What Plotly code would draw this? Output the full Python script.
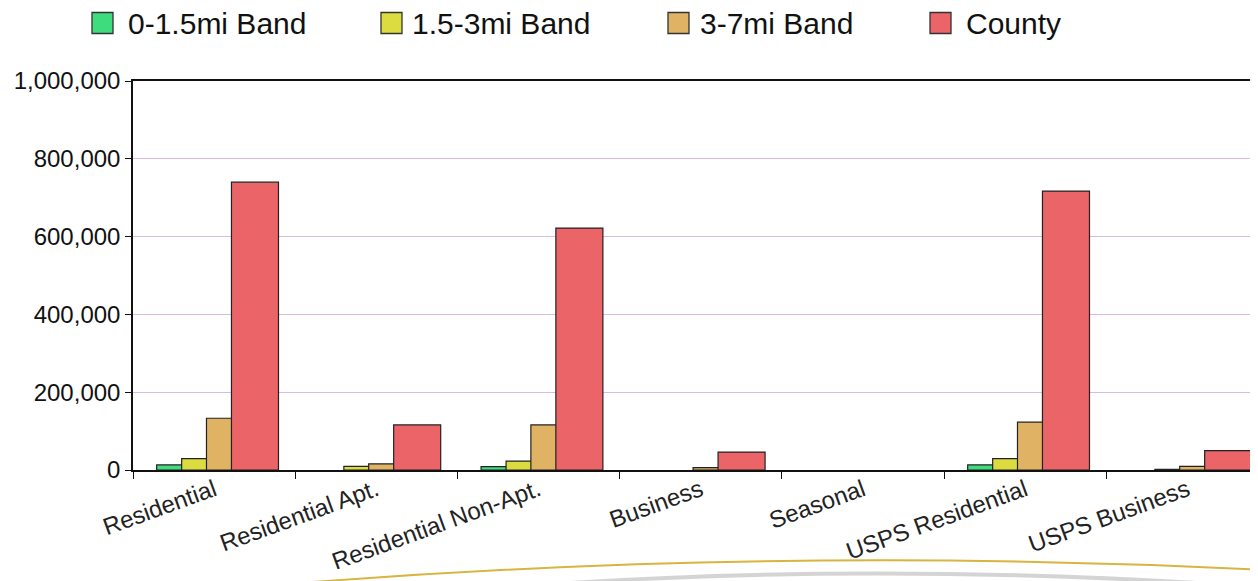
import plotly.graph_objects as go

categories = ["Residential", "Residential Apt.", "Residential Non-Apt.", "Business",
              "Seasonal", "USPS Residential", "USPS Business"]
series_names = ["0-1.5mi Band", "1.5-3mi Band", "3-7mi Band", "County"]
band_0_15 = [13000, 0, 8500, 0, 0, 13000, 0]
band_15_3 = [29000, 9500, 23000, 0, 0, 29000, 1500]
band_3_7 = [133000, 16000, 116000, 6000, 0, 123000, 9500]
county = [740000, 116000, 622000, 46000, 0, 717000, 50000]
y_ticks = [0, 200000, 400000, 600000, 800000, 1000000]

series_values = [band_0_15, band_15_3, band_3_7, county]
colors = ["#3fdc7e", "#dcdc40", "#e0b264", "#ea6468"]
offsets = [-0.354, -0.2, -0.047, 0.107]
bar_width = 0.29

# page body has an 8px margin; work in screen pixels and convert
OFF = 8
W, H = 1258 - OFF, 581 - OFF
L, R, T, B = 133 - OFF, 1258 - OFF, 81 - OFF, 470 - OFF
CAT_PX = 162.2

FONT = "Liberation Sans, Arial, Helvetica, sans-serif"

fig = go.Figure()
for name, vals, col, off in zip(series_names, series_values, colors, offsets):
    fig.add_trace(go.Bar(
        x=categories, y=[v if v > 0 else None for v in vals], name=name,
        offset=off, width=bar_width,
        marker=dict(color=col, line=dict(color="#222222", width=1.2)),
        showlegend=False,
    ))


def px2paper(sx, sy):
    fx, fy = sx - OFF, sy - OFF
    return (fx - L) / (R - L), (B - fy) / (B - T)


# legend entries: one legend per item to reproduce the spacing
legend_x_screen = [88, 372, 660, 926]
box_x_screen = [92, 381, 668, 930]
legend_keys = ["legend", "legend2", "legend3", "legend4"]
layout_legends = {}
shapes = []
for name, col, key, lx, bx in zip(series_names, colors, legend_keys,
                                   legend_x_screen, box_x_screen):
    fig.add_trace(go.Scatter(
        x=[None], y=[None], mode="markers", name=name, legend=key,
        marker=dict(symbol="square", size=16, color="rgba(0,0,0,0)",
                    line=dict(color="rgba(0,0,0,0)", width=0)),
        showlegend=True,
    ))
    layout_legends[key] = dict(
        x=(lx - OFF) / W, xref="container", xanchor="left",
        y=(H - (22.5 - OFF)) / H, yref="container", yanchor="middle",
        orientation="h", bgcolor="rgba(0,0,0,0)",
        font=dict(family=FONT, size=30, color="#111111"),
    )
    x0, y1 = px2paper(bx, 12.5)
    x1, y0 = px2paper(bx + 21, 33.5)
    shapes.append(dict(type="rect", xref="paper", yref="paper",
                       x0=x0, x1=x1, y0=y0, y1=y1, fillcolor=col,
                       line=dict(color="#333333", width=1.3)))


def arc_path(p0, c, p2):
    a = px2paper(*p0)
    b = px2paper(*c)
    d = px2paper(*p2)
    return f"M {a[0]:.4f},{a[1]:.4f} Q {b[0]:.4f},{b[1]:.4f} {d[0]:.4f},{d[1]:.4f}"


shapes += [
    dict(type="path", xref="paper", yref="paper",
         path=arc_path((540, 585), (870, 562), (1230, 585)),
         line=dict(color="rgba(205,205,205,0.85)", width=4)),
    dict(type="path", xref="paper", yref="paper",
         path=arc_path((300, 583), (800, 544), (1300, 572)),
         line=dict(color="#d8b440", width=2)),
]

fig.update_layout(
    width=W, height=H,
    margin=dict(l=L, r=W - R, t=T, b=H - B, pad=0, autoexpand=False),
    paper_bgcolor="white", plot_bgcolor="white",
    barmode="overlay",
    font=dict(family=FONT, size=24, color="#111111"),
    shapes=shapes,
    **layout_legends,
)

fig.update_xaxes(
    type="category", range=[-0.5, -0.5 + (R - L) / CAT_PX],
    showline=True, linecolor="#111111", linewidth=1.5, mirror=True,
    ticks="outside", tickson="boundaries", ticklen=7, tickcolor="#111111",
    tickangle=-20, showgrid=False, ticklabelstandoff=-5,
    tickfont=dict(family=FONT, size=24, color="#222222"),
)
fig.update_yaxes(
    range=[0, 1000000], tickvals=y_ticks, tickformat=",d",
    showline=True, linecolor="#111111", linewidth=1.5,
    ticks="outside", ticklen=6, tickcolor="#111111",
    showgrid=True, gridcolor="#dcb8e4", gridwidth=1, zeroline=False,
    tickfont=dict(family=FONT, size=24, color="#111111"),
)

fig.write_html("out.html")
